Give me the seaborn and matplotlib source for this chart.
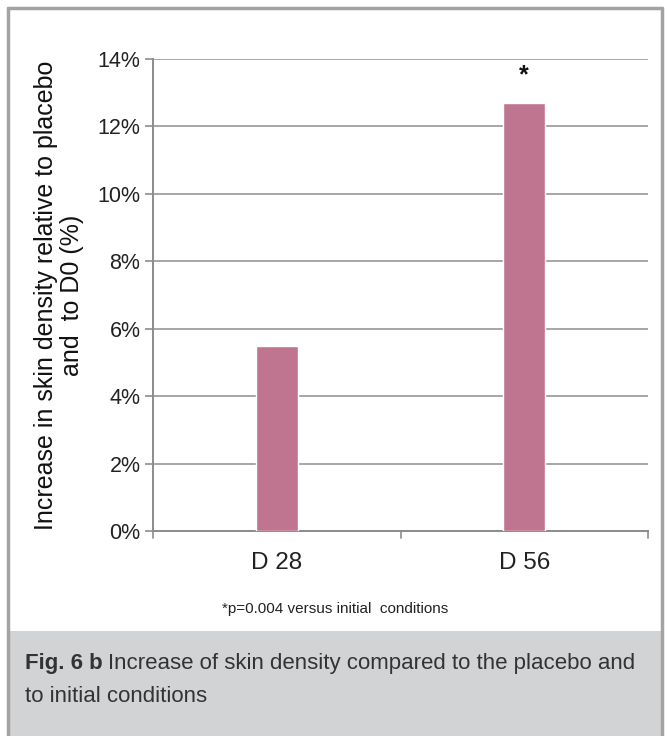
import matplotlib
matplotlib.use("Agg")
import matplotlib.pyplot as plt
import matplotlib.patches as mpatches
import seaborn as sns
import pandas as pd
from matplotlib.ticker import FuncFormatter

# Data
days = ["D 28", "D 56"]
increase_pct = [5.5, 12.7]
significant = [False, True]

sns.set_theme(style="white")
plt.rcParams["font.family"] = ["Liberation Sans", "DejaVu Sans"]

W, H = 668, 736
fig = plt.figure(figsize=(W / 100, H / 100), dpi=100)
fig.patch.set_facecolor("white")

def fx(px):
    return px / W

def fy(py):
    return 1 - py / H

# Caption panel and outer frame
fig.add_artist(mpatches.Rectangle((fx(9), 0), fx(653), fy(631), transform=fig.transFigure,
                                  facecolor="#d2d3d5", edgecolor="none", zorder=0))
frame_col = "#a3a3a3"
fig.add_artist(plt.Line2D([fx(8), fx(8)], [0, fy(8)], transform=fig.transFigure, color=frame_col, lw=2.5))
fig.add_artist(plt.Line2D([fx(662), fx(662)], [0, fy(8)], transform=fig.transFigure, color=frame_col, lw=2.5))
fig.add_artist(plt.Line2D([fx(8), fx(662)], [fy(8), fy(8)], transform=fig.transFigure, color=frame_col, lw=2.5))

# Chart axes
left, right, top, bottom = 153, 648, 59, 531
ax = fig.add_axes([fx(left), fy(bottom), fx(right - left), (bottom - top) / H])

df = pd.DataFrame({"day": days, "value": increase_pct})
sns.barplot(data=df, x="day", y="value", color="#bf7590", saturation=1, width=0.17,
            ax=ax, zorder=3)

ax.set_ylim(0, 14)
ax.set_xlim(-0.5, 1.5)
ax.set_yticks(range(0, 15, 2))
ax.yaxis.set_major_formatter(FuncFormatter(lambda v, p: f"{v:.0f}%"))
ax.grid(axis="y", color="#a6a6a6", lw=1.4, zorder=0)
ax.set_axisbelow(True)

for s in ["top", "right"]:
    ax.spines[s].set_visible(False)
for s in ["left", "bottom"]:
    ax.spines[s].set_color("#8c8c8c")
    ax.spines[s].set_linewidth(1.4)

ax.tick_params(axis="y", which="both", left=True, length=6, width=1.2, color="#8c8c8c",
               labelsize=15.5, labelcolor="#222222", pad=3)
ax.set_xticks([0, 1])
ax.set_xticklabels(days)
ax.tick_params(axis="x", bottom=False, labelsize=17.5, labelcolor="#222222", pad=9)
for xb in [-0.5, 0.5, 1.5]:
    ax.plot([xb, xb], [0, -0.22], color="#8c8c8c", lw=1.2, clip_on=False)

ax.set_xlabel("")
ax.set_ylabel("Increase in skin density relative to placebo\nand  to D0 (%)",
              fontsize=18, color="#111111", labelpad=10, linespacing=1.1)

for i, (v, sig) in enumerate(zip(increase_pct, significant)):
    if sig:
        ax.text(i, v + 0.45, "*", ha="center", va="bottom", fontsize=18,
                color="#111111", fontweight="bold")

# Footnote
fig.text(fx(222), fy(609), "*p=0.004 versus initial  conditions", fontsize=11,
         color="#222222", va="center", ha="left")

# Caption: bold label followed by the description on the same line
cap_size = 16
renderer = fig.canvas.get_renderer()
lbl = fig.text(fx(25), fy(664), "Fig. 6 b", fontsize=cap_size, fontweight="bold",
               color="#333333", va="center", ha="left")
bb = lbl.get_window_extent(renderer=renderer)
fig.text(bb.x1 / W + fx(5), fy(664), "Increase of skin density compared to the placebo and",
         fontsize=cap_size, color="#333333", va="center", ha="left")
fig.text(fx(25), fy(697), "to initial conditions", fontsize=cap_size, color="#333333",
         va="center", ha="left")

fig.savefig("out.png", dpi=100)
